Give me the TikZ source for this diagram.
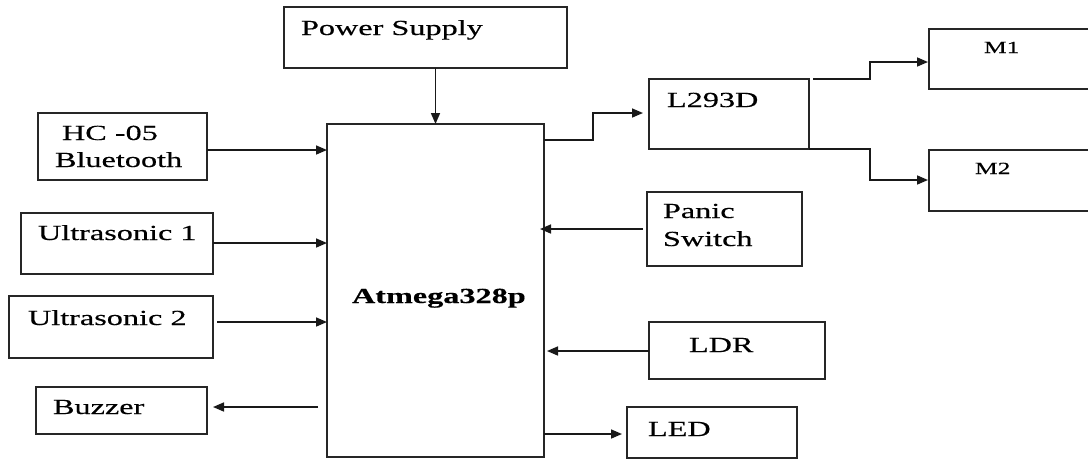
\documentclass[tikz,border=0pt]{standalone}
\usepackage{fontspec}
\setmainfont[FakeStretch=1.5,FakeBold=0.4]{Liberation Serif}
\usetikzlibrary{arrows.meta}
\tikzset{
  box/.style={draw=black!85, line width=1.7pt, rectangle, inner sep=0pt, outer sep=0pt, anchor=north west},
  txt/.style={anchor=base west, inner sep=0pt, outer sep=0pt, font=\fontsize{21.5}{27}\selectfont, text=black},
  smalltxt/.style={anchor=base west, inner sep=0pt, outer sep=0pt, font=\fontsize{17}{21}\selectfont, text=black},
  arr/.style={draw=black!90, line width=1.6pt, -{Triangle[length=11pt,width=9pt]}}
}
\begin{document}
\begin{tikzpicture}[x=1pt,y=-1pt]
\useasboundingbox (0,0) rectangle (1088,459);
\fill[white] (0,0) rectangle (1088,459);
\clip (0,0) rectangle (1088,459);
% boxes
\node[box, minimum width=283pt, minimum height=61pt] (ps) at (284,7) {};
\node[box, minimum width=217pt, minimum height=333pt] (atm) at (327,124) {};
\node[box, minimum width=169pt, minimum height=67pt] (hc) at (38,113) {};
\node[box, minimum width=192pt, minimum height=61pt] (us1) at (21,213) {};
\node[box, minimum width=204pt, minimum height=62pt] (us2) at (9,296) {};
\node[box, minimum width=171pt, minimum height=47pt] (bz) at (36,387) {};
\node[box, minimum width=160pt, minimum height=70pt] (l293) at (649,79) {};
\node[box, minimum width=200pt, minimum height=60pt] (m1) at (929,29) {};
\node[box, minimum width=200pt, minimum height=61pt] (m2) at (929,150) {};
\node[box, minimum width=155pt, minimum height=74pt] (pan) at (647,192) {};
\node[box, minimum width=176pt, minimum height=57pt] (ldr) at (649,322) {};
\node[box, minimum width=170pt, minimum height=51pt] (led) at (627,407) {};
% texts
\node[txt] (pst) at (301,35) {Power Supply};
\node[txt] (hct1) at (62,140) {HC -05};
\node[txt] (hct2) at (55,167) {Bluetooth};
\node[txt] (us1t) at (38,240) {Ultrasonic 1};
\node[txt] (us2t) at (28,325) {Ultrasonic 2};
\node[txt] (bzt) at (53,414) {Buzzer};
\node[txt, font=\fontsize{21.5}{27}\selectfont\bfseries] (atmt) at (352,303) {Atmega328p};
\node[txt] (l293t) at (667,107) {L293D};
\node[smalltxt] (m1t) at (984,53) {M1};
\node[smalltxt] (m2t) at (975,174) {M2};
\node[txt] (pant1) at (663,218) {Panic};
\node[txt] (pant2) at (663,246) {Switch};
\node[txt] (ldrt) at (689,352) {LDR};
\node[txt] (ledt) at (648,436) {LED};
% connectors
\draw[arr] (ps.south -| atm.north) -- (atm.north);
\draw[arr] (hc.east |- 0,150) -- (atm.west |- 0,150);
\draw[arr] (us1.east |- 0,243) -- (atm.west |- 0,243);
\draw[arr] ([xshift=4pt]us2.east |- 0,322) -- (atm.west |- 0,322);
\draw[arr] ([xshift=-9pt]atm.west |- 0,407) -- ([xshift=6pt]bz.east |- 0,407);
\draw[arr] (atm.east |- 0,140) -- ++(49,0) |- ([xshift=-6pt]l293.west |- 0,113);
\draw[arr] ([xshift=4pt]l293.north east) -- ++(57,0) |- ([xshift=-1pt]m1.west |- 0,62);
\draw[arr] (l293.south east) -- ++(61,0) |- ([xshift=-1pt]m2.west |- 0,180);
\draw[arr] ([xshift=-4pt]pan.west |- 0,229) -- ([xshift=-4pt]atm.east |- 0,229);
\draw[arr] (ldr.west |- 0,351) -- ([xshift=3pt]atm.east |- 0,351);
\draw[arr] (atm.east |- 0,434) -- ([xshift=-5pt]led.west |- 0,434);
\end{tikzpicture}
\end{document}
